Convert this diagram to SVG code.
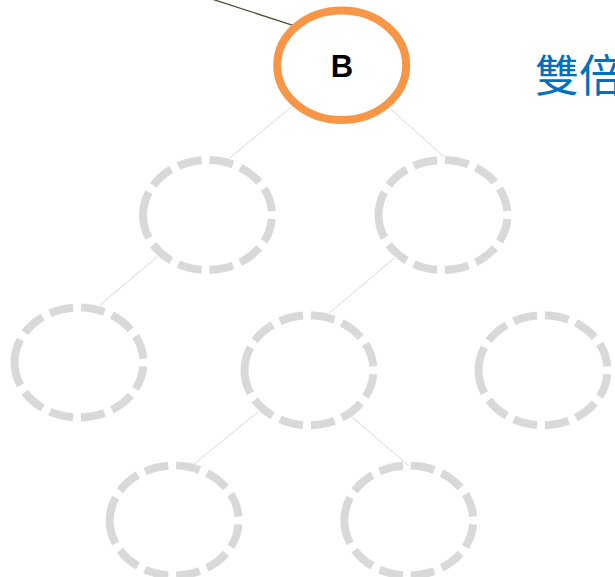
<svg xmlns="http://www.w3.org/2000/svg" width="615" height="577" viewBox="0 0 615 577">
<style>
.bg{fill:#ffffff}
.conn{stroke:#d9d9d9;stroke-width:1;fill:none}
.dark{stroke:#4f4d3c;stroke-width:1.3;fill:none}
.dash{fill:#ffffff;stroke:#d9d9d9;stroke-width:8;stroke-dasharray:24 8}
.root{fill:#ffffff;stroke:#f79646;stroke-width:8}
.lbl{font-family:"Liberation Sans",Arial,sans-serif;font-weight:bold;font-size:31px;fill:#000000;text-anchor:middle}
.title{font-family:"Noto Sans CJK TC","Noto Sans CJK SC",sans-serif;font-size:44px;fill:#0070c0}
</style>
<rect class="bg" x="0" y="0" width="615" height="577"/>
<g id="connectors">
<line class="dark" x1="205" y1="-3.2" x2="296" y2="26.4"/>
<line class="conn" x1="341.7" y1="65.3" x2="228.4" y2="159"/>
<line class="conn" x1="341.7" y1="65.3" x2="444" y2="156.7"/>
<line class="conn" x1="157.3" y1="256.7" x2="100" y2="305"/>
<line class="conn" x1="394" y1="258.3" x2="330" y2="312.7"/>
<line class="conn" x1="258.3" y1="411.7" x2="194" y2="464"/>
<line class="conn" x1="351.7" y1="416.7" x2="410" y2="466.7"/>
</g>
<g id="nodeB" transform="translate(341.7,65.3)">
<ellipse class="root" rx="64.5" ry="54.7"/>
<text class="lbl" x="0.3" y="11.7">B</text>
</g>
<g id="n2L" transform="translate(207.5,215)">
<ellipse class="dash" rx="64.5" ry="55" transform="rotate(180)" pathLength="376"/>
</g>
<g id="n2R" transform="translate(443,215)">
<ellipse class="dash" rx="64.5" ry="55" transform="rotate(180)" pathLength="376"/>
</g>
<g id="n3L" transform="translate(79,362.5)">
<ellipse class="dash" rx="64.5" ry="55" transform="rotate(180)" pathLength="376"/>
</g>
<g id="n3M" transform="translate(309,370.3)">
<ellipse class="dash" rx="64.5" ry="55" transform="rotate(180)" pathLength="376"/>
</g>
<g id="n3R" transform="translate(543,370.3)">
<ellipse class="dash" rx="64.5" ry="55" transform="rotate(180)" pathLength="376"/>
</g>
<g id="n4L" transform="translate(174.2,520.5)">
<ellipse class="dash" rx="64.5" ry="55" transform="rotate(180)" pathLength="376"/>
</g>
<g id="n4R" transform="translate(408.8,520.5)">
<ellipse class="dash" rx="64.5" ry="55" transform="rotate(180)" pathLength="376"/>
</g>
<g id="title">
<text class="title" x="535" y="92">雙倍</text>
</g>
</svg>
